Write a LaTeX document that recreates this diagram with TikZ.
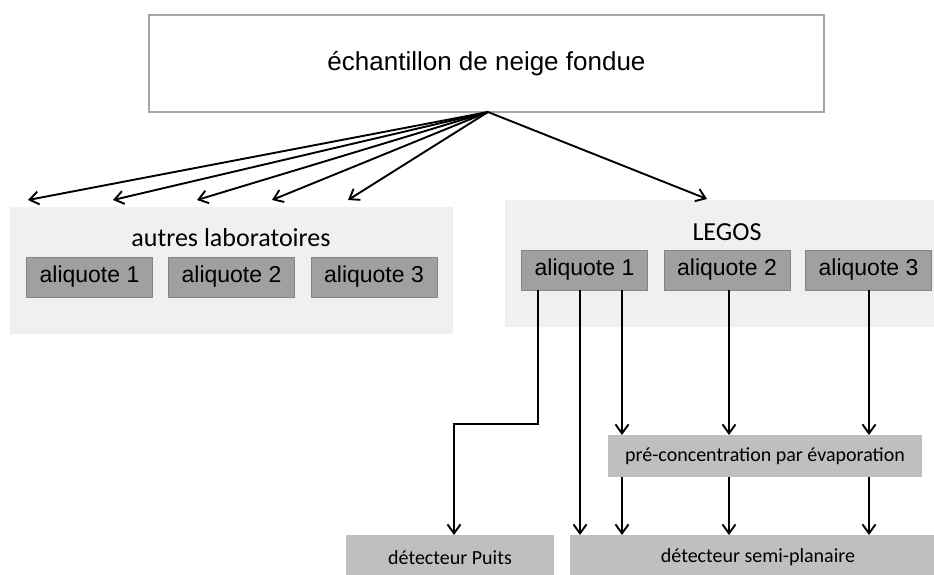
\documentclass[tikz,border=0pt]{standalone}
\usepackage{fontspec}
\setmainfont{Liberation Sans}
\newfontfamily\calibfont{Carlito}
\usepackage{xcolor}
\usepackage{tikz}
\usetikzlibrary{arrows.meta, positioning, calc}
\definecolor{panelgray}{HTML}{F0F0F0}
\definecolor{aligray}{HTML}{A0A0A0}
\definecolor{aliedge}{HTML}{858585}
\definecolor{stepgray}{HTML}{BFBFBF}
\definecolor{topedge}{HTML}{A6A6A6}
\tikzset{
  panel/.style   = {rectangle, fill=panelgray, inner sep=0pt, outer sep=0pt},
  topbox/.style  = {rectangle, draw=topedge, fill=white, line width=1.2pt,
                    inner sep=0pt, outer sep=0pt,
                    font=\fontsize{26}{30}\selectfont},
  alibox/.style  = {rectangle, draw=aliedge, fill=aligray, line width=0.8pt,
                    inner sep=0pt, outer sep=0pt,
                    minimum width=126pt, minimum height=40pt,
                    font=\fontsize{23}{26}\selectfont},
  stepbox/.style = {rectangle, fill=stepgray, inner sep=0pt, outer sep=0pt,
                    font=\calibfont\fontsize{20}{24}\selectfont},
  grptitle/.style= {inner sep=0pt, font=\calibfont\fontsize{26}{30}\selectfont},
  arr/.style     = {-{Straight Barb[length=9pt,width=13pt]}, line width=1.9pt},
}

\begin{document}
\begin{tikzpicture}[x=1pt, y=-1pt]
  \useasboundingbox (0,0) rectangle (934,574);

  % sample
  \node[topbox, minimum width=675pt, minimum height=97pt] (ech) at (486.5,63.5)
    {échantillon de neige fondue};

  % the two groups
  \node[panel, minimum width=443pt, minimum height=127pt] (autres) at (231.5,270.5) {};
  \node[panel, minimum width=435pt, minimum height=127pt] (legos) at (722.5,263.5) {};
  \node[grptitle] (autrestitle) at (231,238) {autres laboratoires};
  \node[grptitle] (legostitle) at (727,232) {LEGOS};

  \foreach \i/\x in {1/89.5, 2/231.5, 3/374}
    \node[alibox] (oa\i) at (\x,277) {aliquote \i};
  \foreach \i/\x in {1/584.5, 2/727, 3/868.5}
    \node[alibox] (la\i) at (\x,270) {aliquote \i};

  % treatment and detectors
  \node[stepbox, minimum width=314pt, minimum height=42pt] (pre) at (765,456)
    {pré-concentration par évaporation};
  \node[stepbox, minimum width=208pt, minimum height=45pt] (puits) at (450,557.5)
    {détecteur Puits};
  \node[stepbox, minimum width=376pt, minimum height=45pt] (semi) at (758,557.5)
    {détecteur semi-planaire};

  % sharing out
  \foreach \i/\x in {1/28, 2/113, 3/197, 4/272, 5/348} {
    \coordinate (fan\i) at (\x,200);
    \draw[arr] ([xshift=1.5pt]ech.south) -- (fan\i);
  }
  \coordinate (legosin) at (707,199);
  \draw[arr] ([xshift=1.5pt]ech.south) -- (legosin);

  % LEGOS paths
  \coordinate (p1) at ([xshift=-46.5pt]la1.south);
  \coordinate (p2) at ([xshift=-4.5pt]la1.south);
  \coordinate (p3) at ([xshift=37.5pt]la1.south);
  \coordinate (p4) at ([xshift=2pt]la2.south);
  \coordinate (p5) at ([xshift=0.5pt]la3.south);
  \draw[arr] (p1) -- ++(0,134) -| ([xshift=4pt]puits.north);
  \draw[arr] (p2) -- (p2 |- semi.north);
  \foreach \p in {p3, p4, p5} {
    \draw[arr] (\p) -- (\p |- pre.north);
    \draw[arr] (\p |- pre.south) -- (\p |- semi.north);
  }
\end{tikzpicture}
\end{document}
